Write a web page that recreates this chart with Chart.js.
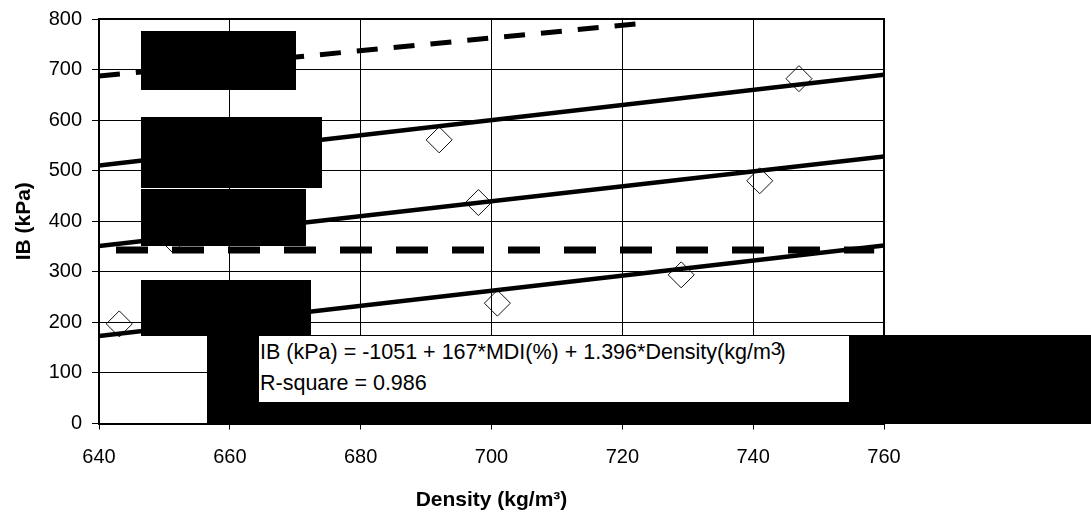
<!DOCTYPE html>
<html>
<head>
<meta charset="utf-8">
<script src="https://cdn.jsdelivr.net/npm/chart.js@4/dist/chart.umd.min.js"></script>
<style>
  html, body { margin: 0; padding: 0; background: #fff; }
  #wrap { position: relative; width: 1091px; height: 514px; }
  #eqBox {
    position: absolute; left: 259px; top: 335px; width: 590px; height: 67px;
    box-sizing: border-box; background: #fff; border-top: 1px solid #000;
    padding: 1px 0 0 1px; color: #000; white-space: nowrap;
    font-family: 'Liberation Sans', Arial, sans-serif; font-size: 21.5px; line-height: 30px;
  }
  #eqBox .sup { font-size: 19px; position: relative; top: -4px; }
  #eqBox .close { margin-left: -3px; }
</style>
</head>
<body>
<div id="wrap">
  <canvas id="ibChart" width="1091" height="514"></canvas>
  <div id="eqBox">IB (kPa) = -1051 + 167*MDI(%) + 1.396*Density(kg/m<span class="sup">3</span><span class="close">)</span><br>R-square = 0.986</div>
</div>
<script>
// measured boards
const density = [643.1, 651.3, 692.0, 698.0, 700.9, 729.0, 741.0, 747.0];
const ibMeasured = [197, 363, 561, 437, 238, 294, 480, 682];

// fitted model lines (end points)
const fitDensity = [640, 760];
const fitLow = [173, 352];
const fitMid = [351, 528];
const fitHigh = [510, 690];

// upper dashed line
const upperDensity = [640, 723.5];
const upperIB = [687, 792];

// horizontal reference line
const refDensity = [642.6, 758.5];
const refIB = [343, 343];

const xTicks = [640, 660, 680, 700, 720, 740, 760];
const yTicks = [0, 100, 200, 300, 400, 500, 600, 700, 800];

// black blocks covering the legend labels (pixels)
const blackBlocks = [
    [141, 31, 155, 59],
    [141, 117, 181, 71],
    [141, 189, 165, 57],
    [141, 280, 170, 56],
    [207, 335, 884, 89]
];

const pairs = (xs, ys) => xs.map((x, i) => ({ x: x, y: ys[i] }));

const lineStyle = (data, width, dash) => ({
    type: 'line',
    data: data,
    borderColor: '#000',
    borderWidth: width,
    borderDash: dash,
    borderCapStyle: 'butt',
    pointRadius: 0,
    fill: false,
    tension: 0,
    order: 0
});

const frameAndBlocks = {
    id: 'frameAndBlocks',
    afterDraw(chart) {
        const { ctx, chartArea: a } = chart;
        ctx.save();
        ctx.strokeStyle = '#000';
        ctx.lineWidth = 2;
        ctx.beginPath();
        ctx.moveTo(a.left, a.top);
        ctx.lineTo(a.right, a.top);
        ctx.lineTo(a.right, a.bottom);
        ctx.stroke();
        ctx.fillStyle = '#000';
        blackBlocks.forEach(b => ctx.fillRect(b[0], b[1], b[2], b[3]));
        ctx.restore();
    }
};

const tickFont = { family: "'Liberation Sans', Arial, sans-serif", size: 20 };
const titleFont = { family: "'Liberation Sans', Arial, sans-serif", size: 21, weight: 'bold' };

new Chart(document.getElementById('ibChart').getContext('2d'), {
    type: 'scatter',
    data: {
        datasets: [
            {
                label: 'Measured',
                data: pairs(density, ibMeasured),
                pointStyle: 'rectRot',
                pointRadius: 13,
                borderColor: '#111',
                borderWidth: 1,
                backgroundColor: 'rgba(255,255,255,0)',
                order: 5
            },
            lineStyle(pairs(fitDensity, fitLow), 4.5, []),
            lineStyle(pairs(fitDensity, fitMid), 4.5, []),
            lineStyle(pairs(fitDensity, fitHigh), 4.5, []),
            lineStyle(pairs(upperDensity, upperIB), 5, [21, 16]),
            lineStyle(pairs(refDensity, refIB), 7, [32, 24])
        ]
    },
    options: {
        responsive: false,
        animation: false,
        events: [],
        layout: { padding: { top: 19, right: 207, left: 0, bottom: 0 } },
        plugins: {
            legend: { display: false },
            tooltip: { enabled: false }
        },
        scales: {
            x: {
                type: 'linear',
                min: 640,
                max: 760,
                afterFit: (s) => { s.height = 90.5; s.paddingLeft = 0; s.paddingRight = 0; },
                afterBuildTicks: (s) => { s.ticks = xTicks.map(v => ({ value: v })); },
                ticks: { color: '#000', font: tickFont, padding: 16, maxRotation: 0 },
                grid: { color: '#000', lineWidth: 1, tickLength: 6, tickColor: '#000' },
                border: { color: '#000', width: 2 },
                title: { display: true, text: 'Density (kg/m³)', color: '#000', font: titleFont, padding: { top: 0, bottom: 1 } }
            },
            y: {
                min: 0,
                max: 800,
                afterFit: (s) => { s.width = 99; s.paddingTop = 0; s.paddingBottom = 0; },
                afterBuildTicks: (s) => { s.ticks = yTicks.map(v => ({ value: v })); },
                ticks: { color: '#000', font: tickFont, padding: 10 },
                grid: { color: '#000', lineWidth: 1, tickLength: 7, tickColor: '#000' },
                border: { color: '#000', width: 2 },
                title: { display: true, text: 'IB (kPa)', color: '#000', font: titleFont, padding: { top: 12, bottom: 0 } }
            }
        }
    },
    plugins: [frameAndBlocks]
});
</script>
</body>
</html>
